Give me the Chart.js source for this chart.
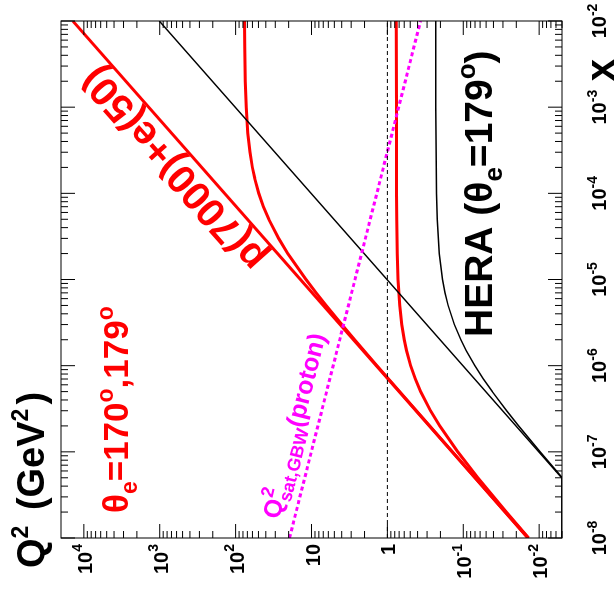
<!DOCTYPE html>
<html>
<head>
<meta charset="utf-8">
<script src="https://cdn.jsdelivr.net/npm/chart.js@4.4.1/dist/chart.umd.min.js"></script>
<style>
  html, body { margin: 0; padding: 0; background: #fff; overflow: hidden; }
  #wrap { position: relative; width: 616px; height: 590px; overflow: hidden; }
  /* the plot is drawn upright (x across, Q2 up) and turned a quarter left */
  #chart { position: absolute; left: 13px; top: -13px; width: 590px; height: 616px; transform: rotate(-90deg); }
</style>
</head>
<body>
<div id="wrap"><canvas id="chart" width="590" height="616"></canvas></div>
<script>
// axis ranges
const xRange = [1e-8, 1e-2];
const q2Range = [5e-3, 2e4];

// tick labels
const xTicks = [1e-8, 1e-7, 1e-6, 1e-5, 1e-4, 1e-3, 1e-2];
const xTickLabels = ["10^-8", "10^-7", "10^-6", "10^-5", "10^-4", "10^-3", "10^-2"];
const q2Ticks = [1e-2, 1e-1, 1, 10, 1e2, 1e3, 1e4];
const q2TickLabels = ["10^-2", "10^-1", "1", "10", "10^2", "10^3", "10^4"];

// p(7000)+e(50), y = 1
const lhecY1X = [1e-8, 1e-2];
const lhecY1Q2 = [0.014, 14000];

// p(7000)+e(50), theta_e = 179 deg
const lhec179X = [1e-8, 2e-8, 5e-8, 1e-7, 2e-7, 3e-7, 5e-7, 7e-7, 1e-6, 1.5e-6, 2e-6, 3e-6, 5e-6, 1e-5, 2e-5, 5e-5, 1e-4, 1e-3, 1e-2];
const lhec179Q2 = [0.01375, 0.0270, 0.0641, 0.1183, 0.2047, 0.2707, 0.3647, 0.4285, 0.4933, 0.5589, 0.5987, 0.6447, 0.6869, 0.7223, 0.7414, 0.7534, 0.7575, 0.7612, 0.7615];

// p(7000)+e(50), theta_e = 170 deg
const lhec170X = [1e-8, 1e-7, 1e-6, 2e-6, 3e-6, 5e-6, 7e-6, 1e-5, 2e-5, 3e-5, 5e-5, 7e-5, 1e-4, 1.5e-4, 2e-4, 3e-4, 5e-4, 1e-3, 2e-3, 5e-3, 1e-2];
const lhec170Q2 = [0.014, 0.1397, 1.375, 2.701, 3.982, 6.414, 8.688, 11.84, 20.50, 27.12, 36.56, 42.98, 49.49, 56.10, 60.11, 64.74, 69.00, 72.57, 74.51, 75.71, 76.13];

// HERA, y = 1 (runs along the lower edge below Q2min)
const heraY1X = [1e-8, 4.94e-8, 1e-2];
const heraY1Q2 = [0.005, 0.005, 1012];

// HERA, theta_e = 179 deg
const hera179X = [1e-8, 5.05e-8, 1e-7, 2e-7, 3e-7, 5e-7, 7e-7, 1e-6, 1.5e-6, 2e-6, 3e-6, 5e-6, 7e-6, 1e-5, 2e-5, 5e-5, 1e-4, 1e-3, 1e-2];
const hera179Q2 = [0.005, 0.005, 0.00969, 0.01861, 0.02683, 0.04149, 0.05418, 0.07031, 0.09151, 0.1077, 0.1310, 0.1583, 0.1738, 0.1877, 0.2068, 0.2204, 0.2253, 0.2299, 0.2303];

// Q2 = 1 reference
const refX = [1e-8, 1e-2];
const refQ2 = [1, 1];

// Q2_sat GBW (proton)
const satX = [1e-8, 1e-2];
const satQ2 = [19.5, 0.366];

const FONT = '"Liberation Sans", Arial, Helvetica, sans-serif';

function pts(xs, ys) {
  return xs.map((x, i) => ({ x: x, y: ys[i] }));
}

function line(data, color, width, dash) {
  return {
    data: data,
    showLine: true,
    borderColor: color,
    borderWidth: width,
    borderDash: dash || [],
    pointRadius: 0,
    tension: 0,
    fill: false,
  };
}

// draws "10^k" style labels
function drawPow(ctx, label, x, y, align, size) {
  const parts = label.split("^");
  const base = parts[0];
  const exp = parts[1];
  const es = Math.round(size * 0.7);
  ctx.font = `bold ${size}px ${FONT}`;
  const bw = ctx.measureText(base).width;
  let ew = 0;
  if (exp) {
    ctx.font = `bold ${es}px ${FONT}`;
    ew = ctx.measureText(exp).width;
  }
  const total = bw + ew;
  let x0 = x;
  if (align === "right") x0 = x - total;
  if (align === "center") x0 = x - total / 2;
  ctx.font = `bold ${size}px ${FONT}`;
  ctx.fillText(base, x0, y);
  if (exp) {
    ctx.font = `bold ${es}px ${FONT}`;
    ctx.fillText(exp, x0 + bw, y - size * 0.47);
  }
}

// text made of pieces (sub/superscripts)
function drawRuns(ctx, runs, x, y, angle, color, align) {
  ctx.save();
  ctx.translate(x, y);
  ctx.rotate(angle || 0);
  ctx.fillStyle = color;
  ctx.textAlign = "left";
  ctx.textBaseline = "alphabetic";
  let total = 0;
  runs.forEach((r) => {
    ctx.font = `bold ${r.s}px ${FONT}`;
    if (!r.hold) total += ctx.measureText(r.t).width + (r.gap || 0);
  });
  let cx = align === "right" ? -total : 0;
  runs.forEach((r) => {
    ctx.font = `bold ${r.s}px ${FONT}`;
    ctx.fillText(r.t, cx, r.dy || 0);
    if (!r.hold) cx += ctx.measureText(r.t).width + (r.gap || 0);
  });
  ctx.restore();
}

const framePlugin = {
  id: "frame",
  afterDatasetsDraw(chart) {
    const { ctx, chartArea: a, scales } = chart;
    const xs = scales.x;
    const ys = scales.y;
    ctx.save();
    ctx.strokeStyle = "#000";
    ctx.lineWidth = 1;
    ctx.strokeRect(a.left, a.top, a.right - a.left, a.bottom - a.top);

    const major = 14;
    const minor = 7;
    ctx.beginPath();
    // x axis ticks, bottom and top
    for (let k = -8; k <= -2; k++) {
      for (let m = 1; m <= 9; m++) {
        const v = m * Math.pow(10, k);
        if (v < xRange[0] * 0.999 || v > xRange[1] * 1.001) continue;
        const px = xs.getPixelForValue(v);
        const len = m === 1 ? major : minor;
        ctx.moveTo(px, a.bottom);
        ctx.lineTo(px, a.bottom - len);
        ctx.moveTo(px, a.top);
        ctx.lineTo(px, a.top + len);
      }
    }
    // Q2 axis ticks, left and right
    for (let k = -3; k <= 4; k++) {
      for (let m = 1; m <= 9; m++) {
        const v = m * Math.pow(10, k);
        if (v < q2Range[0] || v > q2Range[1] * 0.99) continue;
        const py = ys.getPixelForValue(v);
        const len = m === 1 ? major : minor;
        ctx.moveTo(a.left, py);
        ctx.lineTo(a.left + len, py);
        ctx.moveTo(a.right, py);
        ctx.lineTo(a.right - len, py);
      }
    }
    ctx.stroke();

    // tick labels
    ctx.fillStyle = "#000";
    ctx.textBaseline = "alphabetic";
    ctx.textAlign = "left";
    xTicks.forEach((v, i) => {
      drawPow(ctx, xTickLabels[i], xs.getPixelForValue(v), 606, "center", 20);
    });
    q2Ticks.forEach((v, i) => {
      drawPow(ctx, q2TickLabels[i], a.left - 6, ys.getPixelForValue(v) + 8, "right", 20);
    });

    // axis titles
    drawRuns(ctx, [
      { t: "Q", s: 38 },
      { t: "2", s: 23, dy: -16, gap: 5 },
      { t: " (GeV", s: 38 },
      { t: "2", s: 23, dy: -16, gap: 4 },
      { t: ")", s: 38 },
    ], 22, 44, 0, "#000");
    drawRuns(ctx, [{ t: "x", s: 40 }], 531, 614, 0, "#000", "right");

    // HERA label
    drawRuns(ctx, [
      { t: "HERA (\u03b8", s: 39 },
      { t: "e", s: 26, dy: 10 },
      { t: "=179", s: 39 },
      { t: "o", s: 26, dy: -17 },
      { t: ")", s: 39 },
    ], 253, 492, 0, "#000");

    // theta label
    drawRuns(ctx, [
      { t: "\u03b8", s: 35 },
      { t: "e", s: 23, dy: 9 },
      { t: "=170", s: 35 },
      { t: "o", s: 23, dy: -15 },
      { t: ",179", s: 35 },
      { t: "o", s: 23, dy: -15 },
    ], 77, 128, 0, "#ff0000");

    // saturation label, along its line
    const sa = Math.atan2(
      ys.getPixelForValue(satQ2[1]) - ys.getPixelForValue(satQ2[0]),
      xs.getPixelForValue(satX[1]) - xs.getPixelForValue(satX[0])
    );
    drawRuns(ctx, [
      { t: "Q", s: 25 },
      { t: "2", s: 18, dy: -12, hold: true },
      { t: "sat,GBW", s: 18, dy: 7 },
      { t: "(proton)", s: 25 },
    ], 70, 279, sa, "#ff00ff");

    // beam label, along the y = 1 line
    const la = Math.atan2(
      ys.getPixelForValue(lhecY1Q2[1]) - ys.getPixelForValue(lhecY1Q2[0]),
      xs.getPixelForValue(lhecY1X[1]) - xs.getPixelForValue(lhecY1X[0])
    );
    drawRuns(ctx, [{ t: "p(7000)+e(50)", s: 40 }], 333, 268, la, "#ff0000");

    ctx.restore();
  },
};

new Chart(document.getElementById("chart"), {
  type: "scatter",
  data: {
    datasets: [
      line(pts(refX, refQ2), "#000", 1, [4, 3]),
      line(pts(satX, satQ2), "#ff00ff", 3, [4, 3]),
      line(pts(heraY1X, heraY1Q2), "#000", 1.5),
      line(pts(hera179X, hera179Q2), "#000", 1.5),
      line(pts(lhecY1X, lhecY1Q2), "#ff0000", 3),
      line(pts(lhec170X, lhec170Q2), "#ff0000", 3),
      line(pts(lhec179X, lhec179Q2), "#ff0000", 3),
    ],
  },
  options: {
    responsive: false,
    animation: false,
    events: [],
    layout: { padding: { left: 52, right: 21, top: 61, bottom: 54 } },
    plugins: { legend: { display: false }, tooltip: { enabled: false } },
    scales: {
      x: { type: "logarithmic", min: xRange[0], max: xRange[1], display: false },
      y: { type: "logarithmic", min: q2Range[0], max: q2Range[1], display: false },
    },
  },
  plugins: [framePlugin],
});
</script>
</body>
</html>
